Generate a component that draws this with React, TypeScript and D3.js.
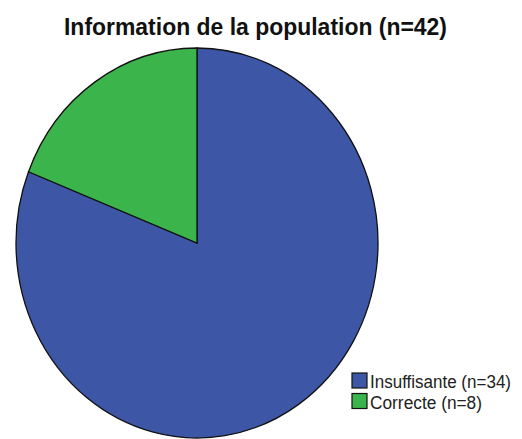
import { useEffect, useRef } from 'react';
import * as d3 from 'd3';

const title = 'Information de la population (n=42)';
const categories = ['Insuffisante', 'Correcte'];
const counts = [34, 8];
const colors = ['#3D57A6', '#3BB44B'];

const W = 522;
const H = 439;

const App = () => {
  const ref = useRef<SVGSVGElement>(null);

  useEffect(() => {
    if (!ref.current) return;
    const svg = d3.select(ref.current);
    svg.selectAll('*').remove();

    svg.append('rect').attr('width', W).attr('height', H).attr('fill', '#fff');

    svg
      .append('text')
      .attr('x', 64)
      .attr('y', 35)
      .attr('font-family', '"Liberation Sans", Arial, sans-serif')
      .attr('font-weight', 'bold')
      .attr('font-size', 23)
      .attr('textLength', 383)
      .attr('lengthAdjust', 'spacingAndGlyphs')
      .attr('fill', '#111')
      .text(title);

    // pie is drawn as a circle then stretched vertically (ellipse in source)
    const rx = 181;
    const ry = 195;
    const pie = d3.pie<number>().sort(null).value((d) => d);
    const arc = d3.arc<d3.PieArcDatum<number>>().innerRadius(0).outerRadius(rx);

    const g = svg
      .append('g')
      .attr('transform', `translate(197,243) scale(1,${ry / rx})`);

    g.selectAll('path')
      .data(pie(counts))
      .enter()
      .append('path')
      .attr('d', arc)
      .attr('fill', (_, i) => colors[i])
      .attr('stroke', '#111')
      .attr('stroke-width', 1.3)
      .attr('vector-effect', 'non-scaling-stroke');

    const legendWidths = [141, 112];
    const lg = svg
      .selectAll('.legend')
      .data(categories)
      .enter()
      .append('g')
      .attr('class', 'legend')
      .attr('transform', (_, i) => `translate(352,${373 + i * 20.5})`);

    lg.append('rect')
      .attr('width', 15)
      .attr('height', 15)
      .attr('fill', (_, i) => colors[i])
      .attr('stroke', '#111')
      .attr('stroke-width', 1.2);

    lg.append('text')
      .attr('x', 18)
      .attr('y', 15)
      .attr('font-family', '"Liberation Sans", Arial, sans-serif')
      .attr('font-size', 17.5)
      .attr('textLength', (_, i) => legendWidths[i])
      .attr('lengthAdjust', 'spacingAndGlyphs')
      .attr('fill', '#222')
      .text((d, i) => `${d} (n=${counts[i]})`);
  }, []);

  return (
    <svg
      ref={ref}
      width={W}
      height={H}
      style={{ position: 'absolute', left: 0, top: 0 }}
    />
  );
};

export default App;
